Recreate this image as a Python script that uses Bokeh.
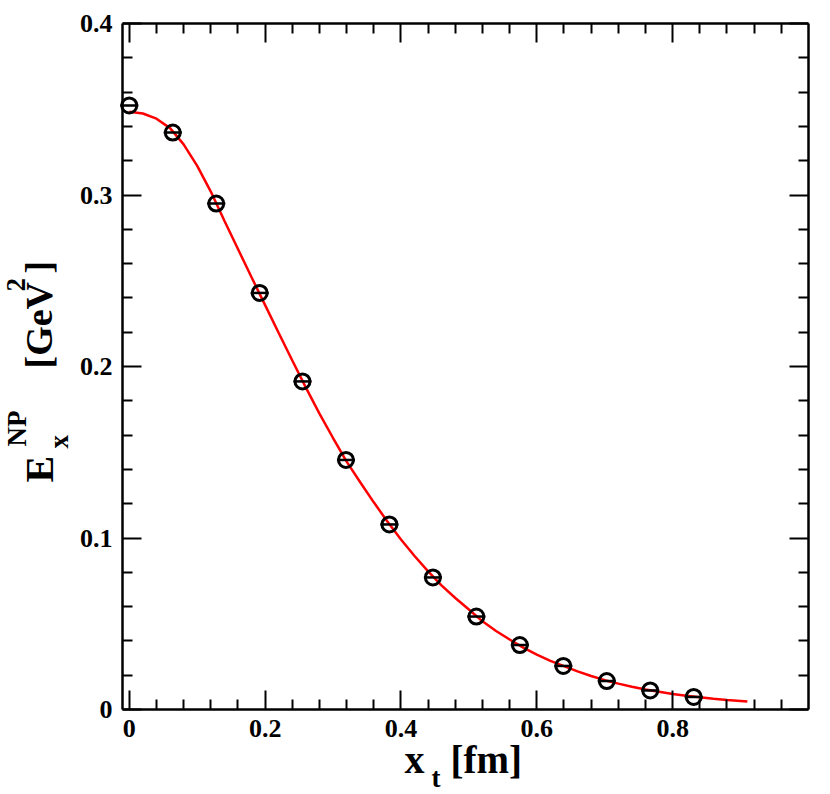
from bokeh.plotting import figure
from bokeh.models import FixedTicker, LinearAxis, Label, Range1d
from bokeh.embed import file_html
from bokeh.resources import INLINE
import math

# ---- data ----
x_points = [0.0, 0.064, 0.128, 0.192, 0.255, 0.319, 0.383, 0.447, 0.511, 0.575, 0.639, 0.703, 0.767, 0.831]
y_points = [0.3522, 0.3364, 0.2950, 0.2429, 0.1913, 0.1455, 0.1079, 0.0770, 0.0542, 0.0376, 0.0254, 0.0166, 0.0111, 0.0073]

x_curve = [0.00, 0.02, 0.04, 0.06, 0.08, 0.10, 0.12, 0.14, 0.16, 0.18, 0.20, 0.22, 0.24, 0.26,
           0.28, 0.30, 0.32, 0.34, 0.36, 0.38, 0.40, 0.42, 0.44, 0.46, 0.48, 0.50, 0.52, 0.54,
           0.56, 0.58, 0.60, 0.62, 0.64, 0.66, 0.68, 0.70, 0.72, 0.74, 0.76, 0.78, 0.80, 0.82,
           0.84, 0.86, 0.88, 0.90, 0.91]
y_curve = [0.3485, 0.3475, 0.3445, 0.3390, 0.3295, 0.3170, 0.3020, 0.2850, 0.2685, 0.2520,
           0.2358, 0.2195, 0.2035, 0.1877, 0.1725, 0.1583, 0.1445, 0.1325, 0.1208, 0.1096,
           0.0991, 0.0895, 0.0805, 0.0722, 0.0650, 0.0583, 0.0514, 0.0458, 0.0408, 0.0361,
           0.0320, 0.0284, 0.0253, 0.0222, 0.0195, 0.0171, 0.0151, 0.0133, 0.0117, 0.0103,
           0.0091, 0.0080, 0.0071, 0.0063, 0.0056, 0.0050, 0.0047]

x_major = [0, 0.2, 0.4, 0.6, 0.8]
x_minor = [0.04, 0.08, 0.12, 0.16, 0.24, 0.28, 0.32, 0.36, 0.44, 0.48, 0.52, 0.56,
           0.64, 0.68, 0.72, 0.76, 0.84, 0.88, 0.92, 0.96]
y_major = [0, 0.1, 0.2, 0.3, 0.4]
y_minor = [0.02, 0.04, 0.06, 0.08, 0.12, 0.14, 0.16, 0.18, 0.22, 0.24, 0.26, 0.28,
           0.32, 0.34, 0.36, 0.38]
x_tick_labels = {0: "0", 0.2: "0.2", 0.4: "0.4", 0.6: "0.6", 0.8: "0.8"}
y_tick_labels = {0: "0", 0.1: "0.1", 0.2: "0.2", 0.3: "0.3", 0.4: "0.4"}

# ---- layout: the frame fills the canvas, the box is drawn by fixed-location axes ----
W, H = 826, 793
BOX_XMIN, BOX_XMAX = -0.01, 1.0
BOX_YMIN, BOX_YMAX = 0.0, 0.4
BOX_L, BOX_R, BOX_T, BOX_B = 122, 808, 23, 709   # box edges in canvas pixels
SX = (BOX_R - BOX_L) / (BOX_XMAX - BOX_XMIN)
SY = (BOX_B - BOX_T) / (BOX_YMAX - BOX_YMIN)

def dx(px):
    return BOX_XMIN + (px - BOX_L) / SX

def dy(py):
    return BOX_YMIN + (BOX_B - py) / SY

p = figure(frame_width=W, frame_height=H,
           x_range=Range1d(dx(0), dx(W)), y_range=Range1d(dy(H), dy(0)),
           output_backend="svg", toolbar_location=None,
           min_border=0, min_border_left=0, min_border_right=0,
           min_border_top=0, min_border_bottom=0,
           background_fill_color="white", border_fill_color="white")
p.grid.visible = False
p.outline_line_color = None

FONT = "Liberation Serif"

def style_axis(ax, major, minor, labels, show_labels, loc, bounds):
    ax.fixed_location = loc
    ax.bounds = bounds
    ax.ticker = FixedTicker(ticks=major, minor_ticks=minor)
    ax.major_tick_in = 19
    ax.major_tick_out = 0
    ax.minor_tick_in = 10
    ax.minor_tick_out = 0
    ax.major_tick_line_width = 2
    ax.minor_tick_line_width = 2
    ax.major_tick_line_color = "black"
    ax.minor_tick_line_color = "black"
    ax.axis_line_width = 2.5
    ax.axis_line_color = "black"
    ax.axis_label = None
    if show_labels:
        ax.major_label_overrides = labels
        ax.major_label_text_font = FONT
        ax.major_label_text_font_style = "bold"
        ax.major_label_text_font_size = "26px"
        ax.major_label_text_color = "black"
        ax.major_label_standoff = 10
    else:
        ax.major_label_text_font_size = "0px"
        ax.major_label_text_alpha = 0
        ax.major_label_standoff = 0

XB = (BOX_XMIN, BOX_XMAX)
YB = (BOX_YMIN, BOX_YMAX)
style_axis(p.xaxis[0], x_major, x_minor, x_tick_labels, True, BOX_YMIN, XB)
style_axis(p.yaxis[0], y_major, y_minor, y_tick_labels, True, BOX_XMIN, YB)
top = LinearAxis()
style_axis(top, x_major, x_minor, x_tick_labels, False, BOX_YMAX, XB)
p.add_layout(top, "above")
right = LinearAxis()
style_axis(right, y_major, y_minor, y_tick_labels, False, BOX_XMAX, YB)
p.add_layout(right, "right")

# ---- glyphs ----
p.line(x_curve, y_curve, line_color="#ff0000", line_width=2.5)
p.scatter(x_points, y_points, marker="circle", size=15, fill_color=None,
          line_color="black", line_width=3)
p.scatter(x_points, y_points, marker="dash", size=18,
          line_color="black", line_width=2.5)

# ---- axis titles built from text pieces (canvas pixel positions of baselines) ----
SHIFT = 0.35  # measured offset of the rendered baseline, in em

def add_text(txt, px, py, size, angle=0.0):
    if angle == 0.0:
        py = py - SHIFT * size
    else:
        px = px - SHIFT * size
    p.add_layout(Label(x=dx(px), y=dy(py), text=txt, text_font=FONT,
                       text_font_style="bold", text_font_size=f"{size}px",
                       text_color="black", text_align="left",
                       text_baseline="alphabetic", angle=angle))

# x title: x_t [fm]
add_text("x", 404, 773, 40)
add_text("t", 431, 787, 27)
add_text("[fm]", 450, 773, 39)

# y title: E_x^NP [GeV^2]
R = math.pi / 2
add_text("E", 53, 482, 40, R)
add_text("x", 68, 448, 27, R)
add_text("NP", 26, 446, 27, R)
add_text("[GeV", 52, 368, 38, R)
add_text("2", 25, 291, 27, R)
add_text("]", 52, 273, 38, R)

open("out.html", "w").write(file_html(p, INLINE))
